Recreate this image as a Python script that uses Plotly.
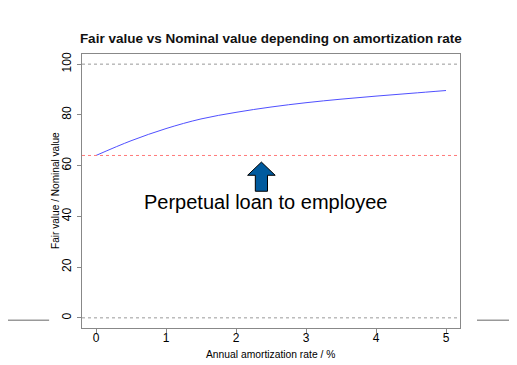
import plotly.graph_objects as go

# Data
rate = [0, 0.5, 1, 1.5, 2, 2.5, 3, 3.5, 4, 4.5, 5]
fair_value = [64.0, 69.8, 74.6, 78.4, 81.0, 83.1, 84.8, 86.2, 87.4, 88.5, 89.6]
ref_levels = [100, 0]
perpetual_level = 64.0
x_ticks = [0, 1, 2, 3, 4, 5]
y_ticks = [0, 20, 40, 60, 80, 100]

FONT = "Liberation Sans, Arial, sans-serif"
W, H = 509, 357  # page body has an 8px margin

fig = go.Figure()
fig.add_trace(go.Scatter(x=rate, y=fair_value, mode="lines",
                         line=dict(color="rgba(60,60,255,0.9)", width=1, shape="spline"),
                         showlegend=False, hoverinfo="skip"))

shapes = []
for lv in ref_levels:
    shapes.append(dict(type="line", xref="paper", yref="y", x0=0, x1=1, y0=lv, y1=lv,
                       line=dict(color="#999999", width=1, dash="dot")))
shapes.append(dict(type="line", xref="paper", yref="y", x0=0, x1=1,
                   y0=perpetual_level, y1=perpetual_level,
                   line=dict(color="#ff7a7a", width=1, dash="dot")))
# block arrow (annotation)
ax = [2.276, 2.276, 2.166, 2.363, 2.56, 2.45, 2.45]
ay = [49.9, 56.2, 56.2, 61.4, 56.2, 56.2, 49.9]
path = "M " + " L ".join(f"{a},{b}" for a, b in zip(ax, ay)) + " Z"
shapes.append(dict(type="path", xref="x", yref="y", path=path,
                   fillcolor="#005a9e", line=dict(color="black", width=1)))
# outside grey decorative lines
shapes.append(dict(type="line", xref="paper", yref="y", x0=-0.25, x1=-0.087, y0=-0.9, y1=-0.9,
                   line=dict(color="#999999", width=1.5)))
shapes.append(dict(type="line", xref="paper", yref="y", x0=1.045, x1=1.2, y0=-0.9, y1=-0.9,
                   line=dict(color="#999999", width=1.5)))

fig.update_layout(
    width=W, height=H,
    margin=dict(l=74, r=57, t=46, b=37, autoexpand=False),
    paper_bgcolor="white", plot_bgcolor="white",
    font=dict(family=FONT, color="black"),
    title=dict(text="<b>Fair value vs Nominal value depending on amortization rate</b>",
               x=262.8 / W, xanchor="center", xref="container",
               y=1 - 30.5 / H, yanchor="middle", yref="container", automargin=False,
               font=dict(size=13.5, family=FONT, color="#111111")),
    shapes=shapes,
    annotations=[
        dict(text="Perpetual loan to employee", xref="x", yref="y",
             x=2.43, y=45.6, showarrow=False,
             font=dict(size=20, family=FONT, color="black")),
        dict(text="Annual amortization rate / %", xref="paper", yref="paper",
             x=0.4987, y=-0.0985, xanchor="center", yanchor="middle", showarrow=False,
             font=dict(size=10.3, family=FONT, color="black")),
        dict(text="Fair value / Nominal value", xref="paper", yref="paper",
             x=-0.07, y=0.502, xanchor="center", yanchor="middle", showarrow=False,
             textangle=-90, font=dict(size=10.1, family=FONT, color="black")),
    ],
)
fig.update_xaxes(range=[-0.2, 5.2], tickvals=x_ticks, ticks="outside", ticklen=4,
                 tickcolor="#888888", showgrid=False, zeroline=False, automargin=False,
                 showline=True, mirror=True, linecolor="#888888", linewidth=1,
                 tickfont=dict(size=12, family=FONT), ticklabelstandoff=-5)
fig.update_yaxes(range=[-4, 104], tickvals=y_ticks, ticks="outside", ticklen=4,
                 tickcolor="#888888", showgrid=False, zeroline=False, automargin=False,
                 showline=True, mirror=True, linecolor="#888888", linewidth=1,
                 tickangle=-90, tickfont=dict(size=12, family=FONT), ticklabelstandoff=1)

fig.write_html("out.html")
